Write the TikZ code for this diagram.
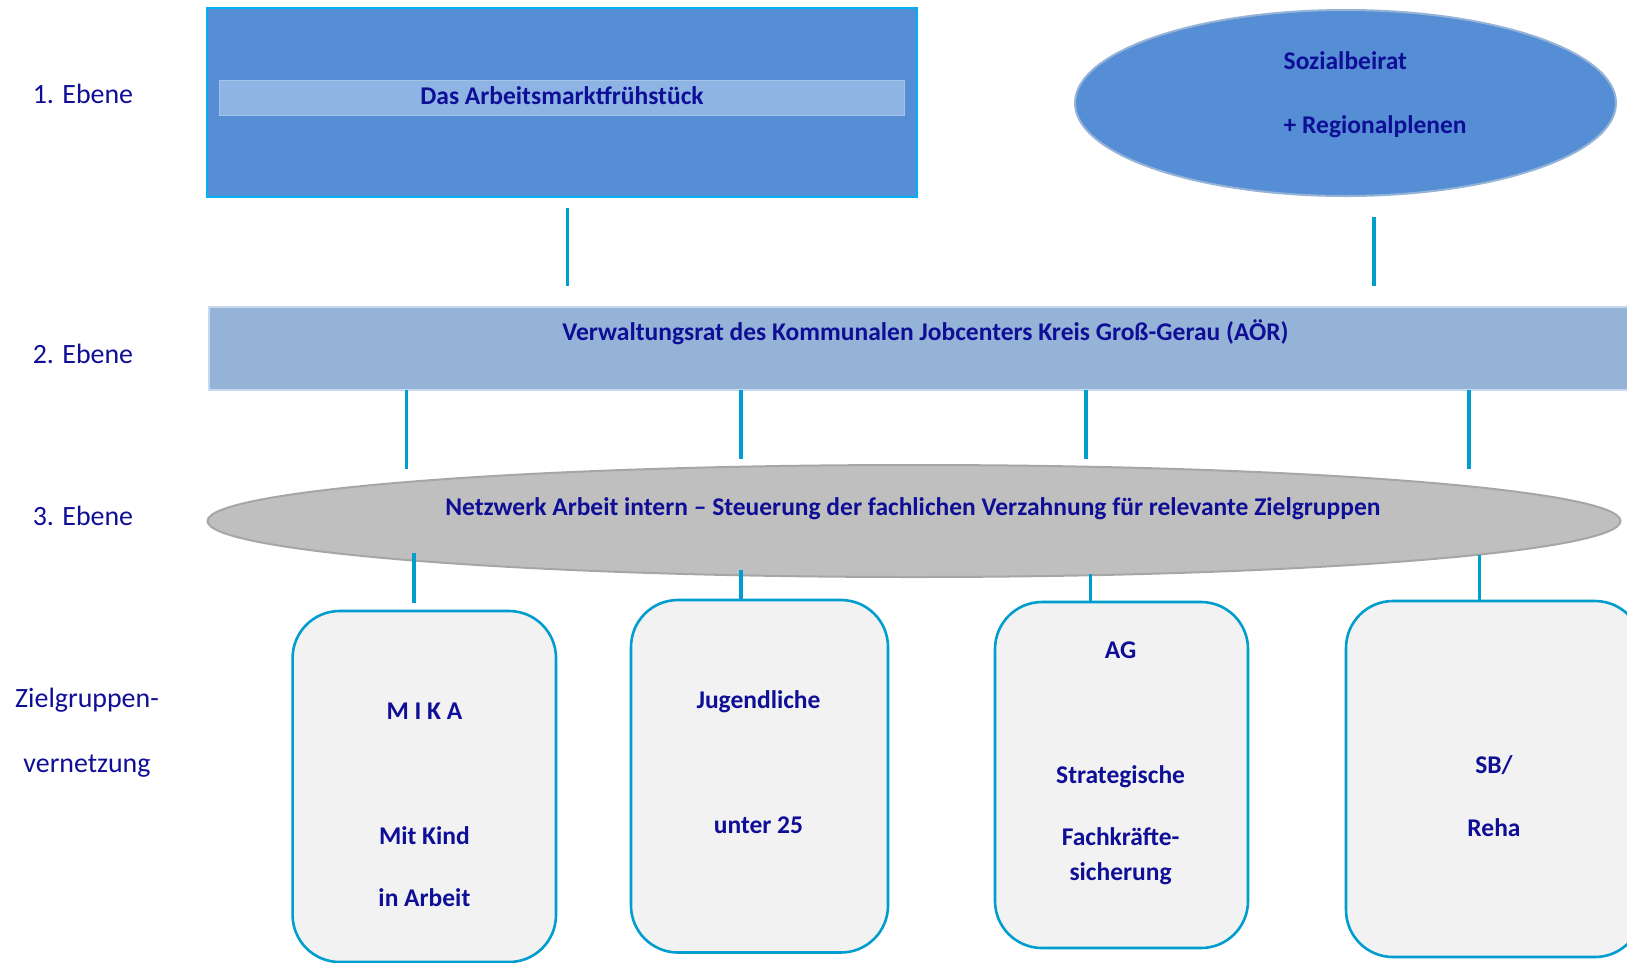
\documentclass[tikz,border=0pt]{standalone}
\usepackage{fontspec}
\setmainfont{Carlito}
\usetikzlibrary{shapes.geometric}
\definecolor{navy}{RGB}{14,14,150}
\definecolor{midblue}{RGB}{85,142,213}
\definecolor{lightblue}{RGB}{142,180,227}
\definecolor{barblue}{RGB}{149,179,215}
\definecolor{barborder}{RGB}{198,217,241}
\definecolor{cyanb}{RGB}{0,176,240}
\definecolor{conncol}{RGB}{0,158,206}
\definecolor{greyfill}{RGB}{191,191,191}
\definecolor{greyline}{RGB}{166,166,166}
\definecolor{boxfill}{RGB}{242,242,242}
\tikzset{
  lvl/.style={text=navy, font=\fontsize{27.9}{33}\selectfont, inner sep=0pt},
  btxt/.style={text=navy, font=\fontsize{25.5}{30}\selectfont\bfseries, inner sep=0pt},
  conn/.style={draw=conncol, line width=3.2pt},
  zbox/.style={draw=conncol, fill=boxfill, line width=2.6pt, rounded corners=47pt},
}
\begin{document}
\begin{tikzpicture}[x=1pt,y=-1pt]
\useasboundingbox (0,0) rectangle (1627,962);
\clip (0,0) rectangle (1627,962);
\fill[white] (0,0) rectangle (1627,962);
% level labels
\node[lvl] (e1) at (83,94) {1. Ebene};
\node[lvl] (e2) at (83,354) {2. Ebene};
\node[lvl] (e3) at (83,516) {3. Ebene};
\node[lvl] (z1) at (87,700) {Zielgruppen-};
\node[lvl] (z2) at (87,766) {vernetzung};
% level 1
\node[draw=cyanb, fill=midblue, line width=2.5pt, minimum width=710pt, minimum height=189pt, inner sep=0pt] (box1) at (562,102.5) {};
\node[draw=lightblue!80!white, fill=lightblue, line width=0.8pt, minimum width=685pt, minimum height=35pt, inner sep=0pt] (strip) at (562,97.5) {};
\node[btxt] (t1) at (562,96) {Das Arbeitsmarktfrühstück};
\node[ellipse, draw=barblue, fill=midblue, line width=2pt, minimum width=541pt, minimum height=186pt, inner sep=0pt] (soz) at (1345.5,103) {};
\node[btxt, anchor=west] (t2) at (1283.5,61) {Sozialbeirat};
\node[btxt, anchor=west] (t3) at (1283.5,126.5) {+ Regionalplenen};
% level 2
\node[draw=barborder, fill=barblue, line width=2pt, minimum width=1440pt, minimum height=83pt, inner sep=0pt, anchor=north west] (bar) at (207.5,306) {};
\node[btxt] (t4) at (925.5,332) {Verwaltungsrat des Kommunalen Jobcenters Kreis Groß-Gerau (AÖR)};
% level 3
\node[ellipse, draw=greyline, fill=greyfill, line width=2pt, minimum width=1413pt, minimum height=112pt, inner sep=0pt] (netz) at (914,521) {};
\node[btxt] (t5) at (913,509) {Netzwerk Arbeit intern -- Steuerung der fachlichen Verzahnung für relevante Zielgruppen};
% target group boxes
\path[zbox] (292.6,611) rectangle (556,962); \node[inner sep=0pt, minimum width=263pt, minimum height=351pt] (mika) at (424.3,786.5) {};
\path[zbox] (631,600) rectangle (888,952.5); \node[inner sep=0pt, minimum width=257pt, minimum height=352pt] (jug) at (759.5,776) {};
\path[zbox] (995,602) rectangle (1248,948); \node[inner sep=0pt, minimum width=253pt, minimum height=346pt] (ag) at (1121.5,775) {};
\path[zbox] (1346,601) rectangle (1642,957); \node[inner sep=0pt, minimum width=296pt, minimum height=356pt] (sb) at (1494,779) {};
\node[btxt] (m1) at (424.4,711) {M I K A};
\node[btxt] (m2) at (424.4,836) {Mit Kind};
\node[btxt] (m3) at (424.4,897.5) {in Arbeit};
\node[btxt] (j1) at (758.5,702) {Jugendliche};
\node[btxt] (j2) at (758.5,825) {unter 25};
\node[btxt] (a1) at (1120.6,650.5) {AG};
\node[btxt] (a2) at (1120.6,777) {Strategische};
\node[btxt] (a3) at (1120.6,837) {Fachkräfte-};
\node[btxt] (a4) at (1120.6,873.6) {sicherung};
\node[btxt] (s1) at (1494,765) {SB/};
\node[btxt] (s2) at (1494,828) {Reha};
% connector end points
\coordinate (c1a) at (567.5,207.5); \coordinate (c1b) at (567.5,286);
\coordinate (c2a) at (1374,217); \coordinate (c2b) at (1374,286);
\coordinate (c3a) at (406.7,390); \coordinate (c3b) at (406.7,469);
\coordinate (c4a) at (741,390); \coordinate (c4b) at (741,458.6);
\coordinate (c5a) at (1086,390); \coordinate (c5b) at (1086,458.6);
\coordinate (c6a) at (1469,390); \coordinate (c6b) at (1469,469);
\coordinate (c7a) at (414,553); \coordinate (c7b) at (414,603);
\coordinate (c8a) at (741,570); \coordinate (c8b) at (741,600);
\coordinate (c9a) at (1090.5,574); \coordinate (c9b) at (1090.5,602);
\coordinate (c10a) at (1479.6,555); \coordinate (c10b) at (1479.6,602);
\draw[conn] (c1a) -- (c1b);
\draw[conn] (c2a) -- (c2b);
\draw[conn] (c3a) -- (c3b);
\draw[conn] (c4a) -- (c4b);
\draw[conn] (c5a) -- (c5b);
\draw[conn] (c6a) -- (c6b);
\draw[conn] (c7a) -- (c7b);
\draw[conn] (c8a) -- (c8b);
\draw[conn] (c9a) -- (c9b);
\draw[conn] (c10a) -- (c10b);
\end{tikzpicture}
\end{document}
